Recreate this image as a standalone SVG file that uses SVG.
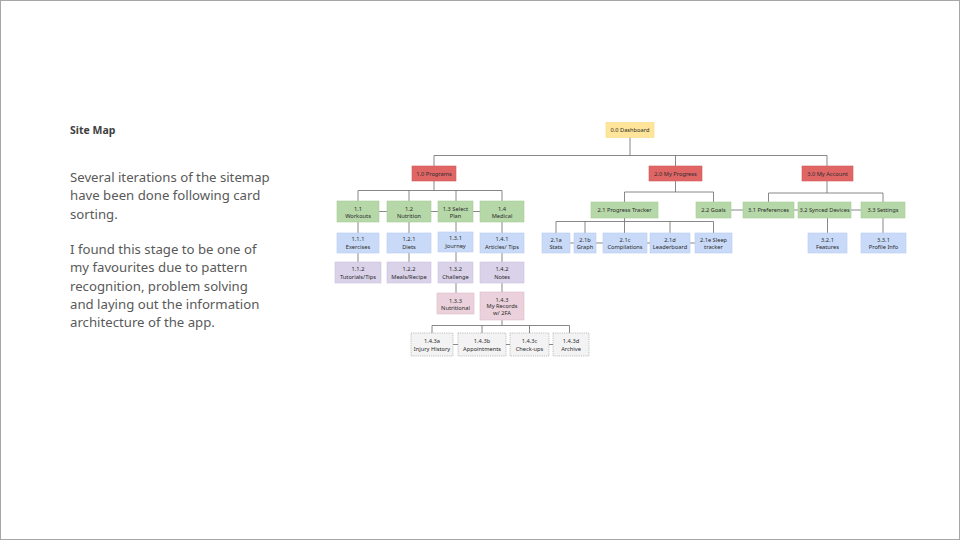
<svg xmlns="http://www.w3.org/2000/svg" width="960" height="540" viewBox="0 0 960 540">
<style>
.t{font-family:"Noto Sans","Open Sans","Liberation Sans",sans-serif;font-size:5.7px;fill:#2b2b2b;text-anchor:middle}
.red{fill:#e06666;stroke:#d45a5a;stroke-width:0.6}
.grn{fill:#b6d7a8;stroke:#a8cc98;stroke-width:0.6}
.blu{fill:#c9daf8;stroke:#b8cdf2;stroke-width:0.6}
.pur{fill:#d9d2e9;stroke:#cbc2e0;stroke-width:0.6}
.pnk{fill:#ead1dc;stroke:#dcbfcc;stroke-width:0.6}
.yel{fill:#ffe599;stroke:#f5d97f;stroke-width:0.6}
.dsh{fill:#f3f3f3;stroke:#9a9a9a;stroke-width:0.6;stroke-dasharray:1.2 1}
#connectors line{stroke:#6a6a6a;stroke-width:0.8}
.body{font-family:"Noto Sans","Open Sans","Liberation Sans",sans-serif;font-size:13.2px;fill:#595959}
</style>
<rect x="0.5" y="0.5" width="959" height="539" fill="#fff" stroke="#a6a6a6" stroke-width="1"/>
<text x="70" y="134" font-family="Noto Sans, Open Sans, Liberation Sans, sans-serif" font-size="10.5" font-weight="bold" fill="#404040">Site Map</text>
<g class="body">
<text x="70" y="182">Several iterations of the sitemap</text>
<text x="70" y="200">have been done following card</text>
<text x="70" y="218.5">sorting.</text>
<text x="70" y="254">I found this stage to be one of</text>
<text x="70" y="272">my favourites due to pattern</text>
<text x="70" y="290.5">recognition, problem solving</text>
<text x="70" y="309">and laying out the information</text>
<text x="70" y="327">architecture of the app.</text>
</g>
<g id="connectors">
<line x1="630" y1="137" x2="630" y2="155.5"/>
<line x1="434" y1="155.5" x2="827" y2="155.5"/>
<line x1="434" y1="155.5" x2="434" y2="166"/>
<line x1="675.5" y1="155.5" x2="675.5" y2="166"/>
<line x1="827" y1="155.5" x2="827" y2="166"/>
<line x1="434" y1="181" x2="434" y2="190.5"/>
<line x1="358" y1="190.5" x2="502" y2="190.5"/>
<line x1="358" y1="190.5" x2="358" y2="201"/>
<line x1="409" y1="190.5" x2="409" y2="201"/>
<line x1="456" y1="190.5" x2="456" y2="201"/>
<line x1="502" y1="190.5" x2="502" y2="201"/>
<line x1="379" y1="211.5" x2="387" y2="211.5"/>
<line x1="431" y1="211.5" x2="438" y2="211.5"/>
<line x1="473" y1="211.5" x2="480" y2="211.5"/>
<line x1="358" y1="222" x2="358" y2="233"/>
<line x1="409" y1="222" x2="409" y2="233"/>
<line x1="456" y1="222" x2="456" y2="232"/>
<line x1="502" y1="222" x2="502" y2="233"/>
<line x1="358" y1="253" x2="358" y2="262"/>
<line x1="409" y1="253" x2="409" y2="262"/>
<line x1="456" y1="252" x2="456" y2="262"/>
<line x1="502" y1="253" x2="502" y2="262"/>
<line x1="456" y1="283" x2="456" y2="293"/>
<line x1="502" y1="283" x2="502" y2="292"/>
<line x1="502" y1="320" x2="502" y2="325.5"/>
<line x1="432" y1="325.5" x2="569.5" y2="325.5"/>
<line x1="432" y1="325.5" x2="432" y2="333"/>
<line x1="482" y1="325.5" x2="482" y2="333"/>
<line x1="529.5" y1="325.5" x2="529.5" y2="333"/>
<line x1="569.5" y1="325.5" x2="569.5" y2="333"/>
<line x1="453" y1="344.5" x2="458" y2="344.5"/>
<line x1="506" y1="344.5" x2="510" y2="344.5"/>
<line x1="549" y1="344.5" x2="553" y2="344.5"/>
<line x1="675.5" y1="181" x2="675.5" y2="192"/>
<line x1="624.5" y1="192" x2="713.5" y2="192"/>
<line x1="624.5" y1="192" x2="624.5" y2="202"/>
<line x1="713.5" y1="192" x2="713.5" y2="202"/>
<line x1="731" y1="210" x2="743" y2="210"/>
<line x1="624.5" y1="218" x2="624.5" y2="221.5"/>
<line x1="556" y1="221.5" x2="713.5" y2="221.5"/>
<line x1="556" y1="221.5" x2="556" y2="233"/>
<line x1="585" y1="221.5" x2="585" y2="233"/>
<line x1="624.5" y1="221.5" x2="624.5" y2="233"/>
<line x1="670" y1="221.5" x2="670" y2="233"/>
<line x1="713.5" y1="221.5" x2="713.5" y2="233"/>
<line x1="570" y1="243" x2="574" y2="243"/>
<line x1="596" y1="243" x2="603" y2="243"/>
<line x1="647" y1="243" x2="650" y2="243"/>
<line x1="690" y1="243" x2="695" y2="243"/>
<line x1="827" y1="181" x2="827" y2="193"/>
<line x1="768.5" y1="193" x2="883" y2="193"/>
<line x1="768.5" y1="193" x2="768.5" y2="202"/>
<line x1="883" y1="193" x2="883" y2="202"/>
<line x1="794" y1="210" x2="798" y2="210"/>
<line x1="851" y1="210" x2="861" y2="210"/>
<line x1="827.5" y1="218" x2="827.5" y2="233"/>
<line x1="883" y1="218" x2="883" y2="233"/>
</g>
<g id="n00"><rect class="yel" x="606" y="122.5" width="48" height="15"/><text class="t" x="630" y="132">0.0 Dashboard</text></g>
<g id="n10"><rect class="red" x="412" y="166" width="44" height="15"/><text class="t" x="434" y="175.5">1.0 Programs</text></g>
<g id="n20"><rect class="red" x="649" y="166" width="53" height="15"/><text class="t" x="675.5" y="175.5">2.0 My Progress</text></g>
<g id="n30"><rect class="red" x="802" y="166" width="51" height="15"/><text class="t" x="827.5" y="175.5">3.0 My Account</text></g>
<g id="n11"><rect class="grn" x="337" y="201" width="42" height="21"/><text class="t" x="358" y="211">1.1</text><text class="t" x="358" y="217.5">Workouts</text></g>
<g id="n12"><rect class="grn" x="387" y="201" width="44" height="21"/><text class="t" x="409" y="211">1.2</text><text class="t" x="409" y="217.5">Nutrition</text></g>
<g id="n13"><rect class="grn" x="438" y="201" width="35" height="21"/><text class="t" x="455.5" y="211">1.3 Select</text><text class="t" x="455.5" y="217.5">Plan</text></g>
<g id="n14"><rect class="grn" x="480" y="201" width="44" height="21"/><text class="t" x="502" y="211">1.4</text><text class="t" x="502" y="217.5">Medical</text></g>
<g id="n111"><rect class="blu" x="337" y="233" width="42" height="20"/><text class="t" x="358" y="241">1.1.1</text><text class="t" x="358" y="248.5">Exercises</text></g>
<g id="n121"><rect class="blu" x="387" y="233" width="44" height="20"/><text class="t" x="409" y="241">1.2.1</text><text class="t" x="409" y="248.5">Diets</text></g>
<g id="n131"><rect class="blu" x="438" y="232" width="35" height="20"/><text class="t" x="455.5" y="240">1.3.1</text><text class="t" x="455.5" y="247.5">Journey</text></g>
<g id="n141"><rect class="blu" x="480" y="233" width="44" height="20"/><text class="t" x="502" y="241">1.4.1</text><text class="t" x="502" y="248.5">Articles/ Tips</text></g>
<g id="n112"><rect class="pur" x="335" y="262" width="46" height="21"/><text class="t" x="358" y="271">1.1.2</text><text class="t" x="358" y="278.5">Tutorials/Tips</text></g>
<g id="n122"><rect class="pur" x="387" y="262" width="44" height="21"/><text class="t" x="409" y="271">1.2.2</text><text class="t" x="409" y="278.5">Meals/Recipe</text></g>
<g id="n132"><rect class="pur" x="438" y="262" width="35" height="21"/><text class="t" x="455.5" y="271">1.3.2</text><text class="t" x="455.5" y="278.5">Challenge</text></g>
<g id="n142"><rect class="pur" x="480" y="262" width="44" height="21"/><text class="t" x="502" y="271">1.4.2</text><text class="t" x="502" y="278.5">Notes</text></g>
<g id="n133"><rect class="pnk" x="437" y="293" width="37" height="21"/><text class="t" x="455.5" y="302.5">1.3.3</text><text class="t" x="455.5" y="309.5">Nutritional</text></g>
<g id="n143"><rect class="pnk" x="480" y="292" width="44" height="28"/><text class="t" x="502" y="302">1.4.3</text><text class="t" x="502" y="308.3">My Records</text><text class="t" x="502" y="314.6">w/ 2FA</text></g>
<g id="n143a"><rect class="dsh" x="411" y="333" width="42" height="23"/><text class="t" x="432" y="342.5">1.4.3a</text><text class="t" x="432" y="350.5">Injury History</text></g>
<g id="n143b"><rect class="dsh" x="458" y="333" width="48" height="23"/><text class="t" x="482" y="342.5">1.4.3b</text><text class="t" x="482" y="350.5">Appointments</text></g>
<g id="n143c"><rect class="dsh" x="510" y="333" width="39" height="23"/><text class="t" x="529.5" y="342.5">1.4.3c</text><text class="t" x="529.5" y="350.5">Check-ups</text></g>
<g id="n143d"><rect class="dsh" x="553" y="333" width="36" height="23"/><text class="t" x="571" y="342.5">1.4.3d</text><text class="t" x="571" y="350.5">Archive</text></g>
<g id="n21"><rect class="grn" x="591" y="202" width="67" height="16"/><text class="t" x="624.5" y="212">2.1 Progress Tracker</text></g>
<g id="n22"><rect class="grn" x="696" y="202" width="35" height="16"/><text class="t" x="713.5" y="212">2.2 Goals</text></g>
<g id="n21a"><rect class="blu" x="542" y="233" width="28" height="20"/><text class="t" x="556" y="241.5">2.1a</text><text class="t" x="556" y="248.5">Stats</text></g>
<g id="n21b"><rect class="blu" x="574" y="233" width="22" height="20"/><text class="t" x="585" y="241.5">2.1b</text><text class="t" x="585" y="248.5">Graph</text></g>
<g id="n21c"><rect class="blu" x="603" y="233" width="44" height="20"/><text class="t" x="625" y="241.5">2.1c</text><text class="t" x="625" y="248.5">Compilations</text></g>
<g id="n21d"><rect class="blu" x="650" y="233" width="40" height="20"/><text class="t" x="670" y="241.5">2.1d</text><text class="t" x="670" y="248.5">Leaderboard</text></g>
<g id="n21e"><rect class="blu" x="695" y="233" width="37" height="20"/><text class="t" x="713.5" y="241.5">2.1e Sleep</text><text class="t" x="713.5" y="248.5">tracker</text></g>
<g id="n31"><rect class="grn" x="743" y="202" width="51" height="16"/><text class="t" x="768.5" y="212">3.1 Preferences</text></g>
<g id="n32"><rect class="grn" x="798" y="202" width="53" height="16"/><text class="t" x="824.5" y="212">3.2 Synced Devices</text></g>
<g id="n33"><rect class="grn" x="861" y="202" width="44" height="16"/><text class="t" x="883" y="212">3.3 Settings</text></g>
<g id="n321"><rect class="blu" x="808" y="233" width="39" height="20"/><text class="t" x="827.5" y="241.5">3.2.1</text><text class="t" x="827.5" y="248.5">Features</text></g>
<g id="n331"><rect class="blu" x="861" y="233" width="45" height="20"/><text class="t" x="883.5" y="241.5">3.3.1</text><text class="t" x="883.5" y="248.5">Profile Info</text></g>
</svg>
